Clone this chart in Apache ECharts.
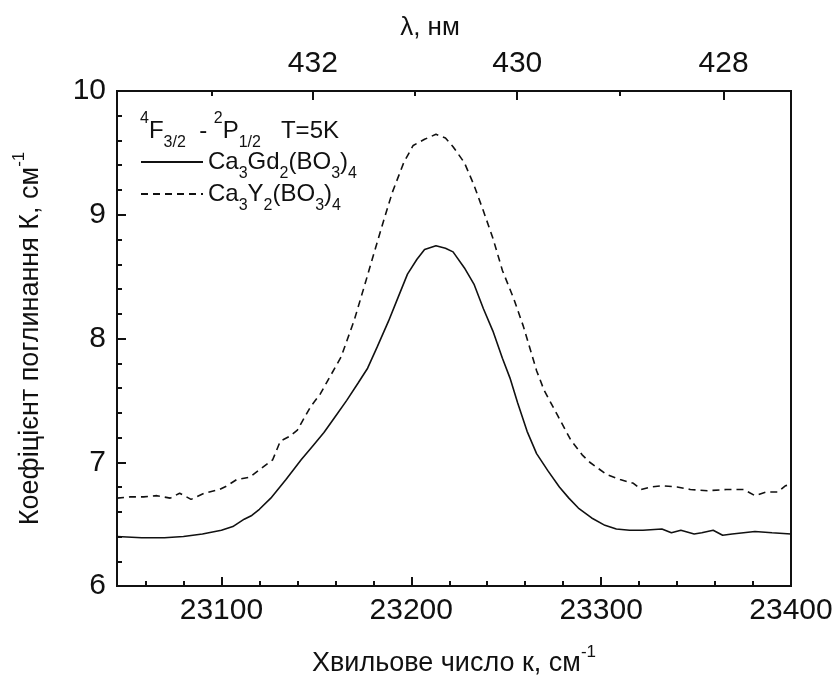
<!DOCTYPE html>
<html>
<head>
<meta charset="utf-8">
<script src="https://cdn.jsdelivr.net/npm/echarts@6/dist/echarts.min.js"></script>
<style>
  html, body { margin: 0; padding: 0; background: #fff; }
  #chart { width: 837px; height: 681px; }
</style>
</head>
<body>
<div id="chart"></div>
<script>
// хвильове число (см-1) і коефіцієнт поглинання для Ca3Gd2(BO3)4
const gdK = [23045, 23058, 23070, 23080, 23090, 23100, 23106, 23112, 23116, 23120, 23126, 23134, 23142, 23148, 23154, 23160, 23166, 23172, 23177, 23182, 23188, 23193, 23198, 23203, 23207, 23213, 23218, 23222, 23228, 23233, 23238, 23243, 23248, 23252, 23256, 23261, 23266, 23272, 23278, 23283, 23288, 23295, 23302, 23308, 23315, 23322, 23332, 23337, 23342, 23349, 23353, 23359, 23364, 23369, 23375, 23381, 23390, 23400];
const gdAbs = [6.40, 6.39, 6.39, 6.40, 6.42, 6.45, 6.48, 6.54, 6.57, 6.62, 6.71, 6.86, 7.02, 7.13, 7.24, 7.37, 7.50, 7.64, 7.76, 7.93, 8.14, 8.33, 8.52, 8.64, 8.72, 8.75, 8.73, 8.70, 8.57, 8.44, 8.24, 8.06, 7.84, 7.68, 7.48, 7.25, 7.07, 6.93, 6.80, 6.71, 6.63, 6.55, 6.49, 6.46, 6.45, 6.45, 6.46, 6.43, 6.45, 6.42, 6.43, 6.45, 6.41, 6.42, 6.43, 6.44, 6.43, 6.42];

// Ca3Y2(BO3)4
const yK = [23045, 23052, 23059, 23066, 23073, 23078, 23084, 23091, 23099, 23103, 23108, 23115, 23120, 23127, 23131, 23136, 23140, 23147, 23152, 23156, 23163, 23170, 23176, 23180, 23185, 23190, 23196, 23201, 23207, 23213, 23218, 23222, 23228, 23233, 23238, 23243, 23248, 23254, 23259, 23266, 23270, 23277, 23284, 23290, 23294, 23303, 23310, 23317, 23321, 23326, 23332, 23340, 23347, 23356, 23366, 23375, 23381, 23387, 23393, 23397, 23400];
const yAbs = [6.71, 6.72, 6.72, 6.73, 6.71, 6.75, 6.70, 6.75, 6.78, 6.81, 6.86, 6.88, 6.94, 7.02, 7.17, 7.21, 7.26, 7.45, 7.55, 7.66, 7.85, 8.15, 8.46, 8.67, 8.93, 9.18, 9.42, 9.56, 9.61, 9.65, 9.62, 9.55, 9.42, 9.24, 9.03, 8.81, 8.55, 8.32, 8.10, 7.74, 7.58, 7.38, 7.18, 7.06, 7.00, 6.90, 6.86, 6.83, 6.78, 6.80, 6.81, 6.80, 6.78, 6.77, 6.78, 6.78, 6.73, 6.76, 6.76, 6.81, 6.82];

// підписи осей
const bottomMajor = [23100, 23200, 23300, 23400];
const bottomMinor = [23060, 23080, 23120, 23140, 23160, 23180, 23220, 23240, 23260, 23280, 23320, 23340, 23360, 23380];
const topMajorNm = [432, 430, 428];
const topMinorNm = [433, 431, 429];

const xMin = 23045, xMax = 23400;
const font = 'Liberation Sans, Arial, sans-serif';
const ink = '#111';

// нм -> см-1, щоб верхня вісь лягла на ту ж шкалу
const nmToK = nm => 1e7 / nm;

const chart = echarts.init(document.getElementById('chart'));

const subRich = {
  n: { fontSize: 24, lineHeight: 40, fontFamily: font, fontWeight: 'normal', color: ink },
  sub: { fontSize: 16, lineHeight: 16, verticalAlign: 'bottom', fontFamily: font, fontWeight: 'normal', color: ink },
  sup: { fontSize: 16, lineHeight: 16, verticalAlign: 'top', fontFamily: font, fontWeight: 'normal', color: ink }
};

const nameRich = {
  n: { fontSize: 27, lineHeight: 40, fontFamily: font, color: ink },
  sup: { fontSize: 17, lineHeight: 18, verticalAlign: 'top', fontFamily: font, color: ink }
};

const legendNames = {
  'Ca3Gd2(BO3)4': '{n|Ca}{sub|3}{n|Gd}{sub|2}{n|(BO}{sub|3}{n|)}{sub|4}',
  'Ca3Y2(BO3)4': '{n|Ca}{sub|3}{n|Y}{sub|2}{n|(BO}{sub|3}{n|)}{sub|4}'
};

const tickLine = { color: ink, width: 2 };
const borderLine = { show: true, lineStyle: { color: ink, width: 2 } };

function minorAxis(position, ticks) {
  return {
    type: 'value', position: position, min: xMin, max: xMax,
    axisLine: borderLine,
    axisTick: { show: true, inside: true, length: 5, customValues: ticks, lineStyle: tickLine },
    axisLabel: { show: false },
    splitLine: { show: false }
  };
}

chart.setOption({
  animation: false,
  backgroundColor: '#fff',
  title: {
    left: 140, top: 111, padding: 0,
    text: '{sup|4}{n|F}{sub|3/2}{n|  - }{sup|2}{n|P}{sub|1/2}{n|   T=5K}',
    textStyle: { fontWeight: 'normal', rich: subRich }
  },
  legend: {
    orient: 'vertical', left: 140, top: 150, padding: 0, itemGap: 0,
    itemWidth: 62, itemHeight: 14,
    data: ['Ca3Gd2(BO3)4', 'Ca3Y2(BO3)4'],
    formatter: name => legendNames[name],
    itemStyle: { opacity: 0 },
    textStyle: { rich: subRich }
  },
  grid: {
    left: 117, right: 46, top: 91, bottom: 95,
    outerBoundsMode: 'none',
    show: true, borderColor: ink, borderWidth: 2, backgroundColor: 'transparent'
  },
  xAxis: [
    {
      type: 'value', position: 'bottom', min: xMin, max: xMax,
      name: '{n|Хвильове число к, см}{sup|-1}',
      nameLocation: 'middle', nameGap: 58,
      nameTextStyle: { rich: nameRich },
      axisLine: borderLine,
      axisTick: { show: true, inside: true, length: 9, customValues: bottomMajor, lineStyle: tickLine },
      axisLabel: { customValues: bottomMajor, margin: 10, fontSize: 30, fontFamily: font, color: ink, formatter: v => String(v) },
      splitLine: { show: false }
    },
    minorAxis('bottom', bottomMinor),
    {
      type: 'value', position: 'top', min: xMin, max: xMax,
      name: 'λ, нм',
      nameLocation: 'middle', nameGap: 50,
      nameTextStyle: { fontSize: 26, fontFamily: font, color: ink, padding: [0, 48, 0, 0] },
      axisLine: borderLine,
      axisTick: { show: true, inside: true, length: 9, customValues: topMajorNm.map(nmToK), lineStyle: tickLine },
      axisLabel: {
        customValues: topMajorNm.map(nmToK), margin: 12, fontSize: 30, fontFamily: font, color: ink,
        formatter: v => String(Math.round(1e7 / v))
      },
      splitLine: { show: false }
    },
    minorAxis('top', topMinorNm.map(nmToK))
  ],
  yAxis: {
    type: 'value', min: 6, max: 10, interval: 1,
    name: '{n|Коефіцієнт поглинання К, см}{sup|-1}',
    nameLocation: 'middle', nameGap: 66,
    nameTextStyle: { rich: nameRich },
    axisLine: borderLine,
    axisTick: { show: true, inside: true, length: 9, lineStyle: tickLine },
    minorTick: { show: true, splitNumber: 5, length: 5, lineStyle: tickLine },
    axisLabel: { margin: 11, fontSize: 30, fontFamily: font, color: ink },
    splitLine: { show: false },
    minorSplitLine: { show: false }
  },
  series: [
    {
      name: 'Ca3Gd2(BO3)4', type: 'line', symbol: 'none', xAxisIndex: 0,
      data: gdK.map((k, i) => [k, gdAbs[i]]),
      itemStyle: { color: ink },
      lineStyle: { color: ink, width: 1.6, type: 'solid' }
    },
    {
      name: 'Ca3Y2(BO3)4', type: 'line', symbol: 'none', xAxisIndex: 0,
      data: yK.map((k, i) => [k, yAbs[i]]),
      itemStyle: { color: ink },
      lineStyle: { color: ink, width: 1.6, type: [7, 5] }
    }
  ]
});
</script>
</body>
</html>
